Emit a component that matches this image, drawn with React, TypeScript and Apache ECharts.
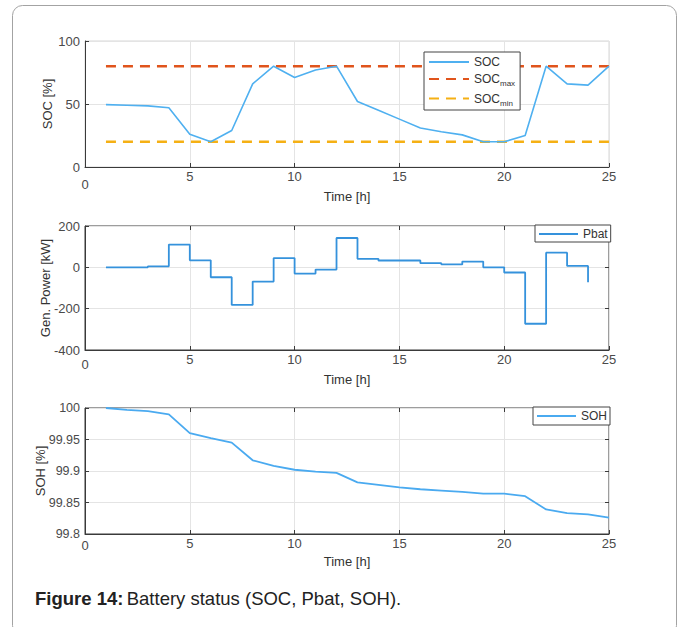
import React, { useEffect, useRef } from 'react';
import * as echarts from 'echarts';

const HOURS = [1, 2, 3, 4, 5, 6, 7, 8, 9, 10, 11, 12, 13, 14, 15, 16, 17, 18, 19, 20, 21, 22, 23, 24, 25];
const SOC = [49.5, 49, 48.5, 47, 26, 20, 29, 66, 80, 71, 77, 80, 52, 45, 38, 31, 28, 25.5, 20, 20, 25, 80, 66, 65, 80];
const SOC_MAX = 80;
const SOC_MIN = 20;
const LIMIT_HOURS = [1, 25];
const PBAT_HOURS = [1, 2, 3, 4, 5, 6, 7, 8, 9, 10, 11, 12, 13, 14, 15, 16, 17, 18, 19, 20, 21, 22, 23, 24];
const PBAT = [0, 0, 5, 110, 34, -48, -182, -69, 45, -30, -11, 142, 41, 33, 33, 20, 14, 28, 0, -25, -273, 71, 7, -72];
const SOH = [100, 99.997, 99.995, 99.99, 99.96, 99.952, 99.945, 99.917, 99.908, 99.902, 99.899, 99.897, 99.882, 99.878, 99.874, 99.871, 99.869, 99.867, 99.864, 99.864, 99.86, 99.839, 99.833, 99.831, 99.826];

const FONT = 'Liberation Sans, Arial, Helvetica, sans-serif';
const AXIS_DARK = '#3a3a3a';
const GRID_LIGHT = '#e4e4e4';
const LABEL_COLOR = '#4a4a4a';

export default function App() {
  const ref = useRef<HTMLDivElement>(null);
  useEffect(() => {
    if (!ref.current) return;
    const chart = echarts.init(ref.current, null, { renderer: 'svg' });

    const grids = [
      { left: 85, width: 524, top: 41, height: 126 },
      { left: 85, width: 524, top: 226, height: 124 },
      { left: 85, width: 524, top: 408, height: 126 },
    ];

    const xBottom = (gi: number, zeroPad: number, nameGap: number) => ({
      type: 'value',
      gridIndex: gi,
      min: 0,
      max: 25,
      interval: 5,
      name: 'Time [h]',
      nameLocation: 'middle',
      nameGap,
      nameMoveOverlap: false,
      nameTextStyle: { fontFamily: FONT, fontSize: 13, color: '#333' },
      axisLine: { show: true, onZero: false, lineStyle: { color: AXIS_DARK, width: 1 } },
      axisTick: { show: true, inside: true, length: 4, lineStyle: { color: AXIS_DARK } },
      axisLabel: {
        fontFamily: FONT,
        fontSize: 13,
        color: LABEL_COLOR,
        margin: 3,
        formatter: (v: number) => (v === 0 ? '{z|0}' : String(v)),
        rich: { z: { fontFamily: FONT, fontSize: 13, color: LABEL_COLOR, padding: [zeroPad, 0, 0, 0] } },
      },
      splitLine: { show: true, lineStyle: { color: GRID_LIGHT, width: 1 } },
    });

    const xTop = (gi: number) => ({
      type: 'value',
      gridIndex: gi,
      position: 'top',
      min: 0,
      max: 25,
      interval: 5,
      axisLine: { show: false, onZero: false },
      axisTick: { show: true, inside: true, length: 4, lineStyle: { color: AXIS_DARK } },
      axisLabel: { show: false },
      splitLine: { show: false },
    });

    const yLeft = (gi: number, min: number, max: number, interval: number, name: string, nameGap: number, fontSize: number, fmt?: (v: number) => string) => ({
      type: 'value',
      gridIndex: gi,
      min,
      max,
      interval,
      name,
      nameLocation: 'middle',
      nameGap,
      nameMoveOverlap: false,
      nameTextStyle: { fontFamily: FONT, fontSize: 13, color: '#333' },
      axisLine: { show: true, onZero: false, lineStyle: { color: AXIS_DARK, width: 1 } },
      axisTick: { show: true, inside: true, length: 4, lineStyle: { color: AXIS_DARK } },
      axisLabel: { fontFamily: FONT, fontSize, color: LABEL_COLOR, margin: 5, formatter: fmt },
      splitLine: { show: true, lineStyle: { color: GRID_LIGHT, width: 1 } },
    });

    const yRight = (gi: number, min: number, max: number, interval: number) => ({
      type: 'value',
      gridIndex: gi,
      position: 'right',
      min,
      max,
      interval,
      axisLine: { show: false, onZero: false },
      axisTick: { show: true, inside: true, length: 4, lineStyle: { color: AXIS_DARK } },
      axisLabel: { show: false },
      splitLine: { show: false },
    });

    const legendBase = {
      orient: 'vertical',
      backgroundColor: '#fff',
      borderColor: '#444',
      borderWidth: 1,
      borderRadius: 0,
      itemGap: 5,
      itemHeight: 14,
      itemStyle: { opacity: 0 },
      textStyle: { fontFamily: FONT, fontSize: 12, color: '#333' },
    };

    const option: any = {
      animation: false,
      grid: [
        { ...grids[0], show: true, borderColor: '#d6d6d6', borderWidth: 1, backgroundColor: 'transparent' },
        { ...grids[1], show: true, borderColor: AXIS_DARK, borderWidth: 1, backgroundColor: 'transparent' },
        { ...grids[2], show: true, borderColor: AXIS_DARK, borderWidth: 1, backgroundColor: 'transparent' },
      ],
      xAxis: [xBottom(0, 8, 23), xBottom(1, 5, 23), xBottom(2, 2, 21), xTop(1), xTop(2)],
      yAxis: [
        yLeft(0, 0, 100, 50, 'SOC [%]', 31, 13),
        yLeft(1, -400, 200, 200, 'Gen. Power [kW]', 33, 13),
        yLeft(2, 99.8, 100, 0.05, 'SOH [%]', 38, 12.5, (v: number) => String(parseFloat(v.toFixed(2)))),
        yRight(1, -400, 200, 200),
        yRight(2, 99.8, 100, 0.05),
      ],
      legend: [
        {
          ...legendBase,
          left: 424,
          top: 52,
          padding: [4, 5, 3, 4],
          itemWidth: 40,
          data: ['SOC', 'SOCmax', 'SOCmin'],
          formatter: (name: string) =>
            name === 'SOCmax' ? '{a|SOC}{s|max}' : name === 'SOCmin' ? '{a|SOC}{s|min}' : '{a|' + name + '}',
          textStyle: {
            fontFamily: FONT,
            fontSize: 12,
            color: '#333',
            rich: {
              a: { fontFamily: FONT, fontSize: 12, color: '#333' },
              s: { fontFamily: FONT, fontSize: 8, color: '#333', padding: [9, 0, 0, 0] },
            },
          },
        },
        { ...legendBase, left: 535, top: 225, padding: [3, 3, 2, 3], itemHeight: 13, itemWidth: 39, data: ['Pbat'] },
        { ...legendBase, left: 533, top: 407, padding: [3, 3, 3, 3], itemHeight: 13, itemWidth: 39, data: ['SOH'] },
      ],
      series: [
        {
          name: 'SOC',
          type: 'line',
          xAxisIndex: 0,
          yAxisIndex: 0,
          symbol: 'none',
          data: HOURS.map((h, i) => [h, SOC[i]]),
          lineStyle: { color: '#4fb0f0', width: 1.6 },
          itemStyle: { color: '#4fb0f0' },
          z: 3,
        },
        {
          name: 'SOCmax',
          type: 'line',
          xAxisIndex: 0,
          yAxisIndex: 0,
          symbol: 'none',
          data: LIMIT_HOURS.map((h) => [h, SOC_MAX]),
          lineStyle: { color: '#e0541c', width: 2.6, type: [10, 7] },
          itemStyle: { color: '#e0541c' },
          z: 2,
        },
        {
          name: 'SOCmin',
          type: 'line',
          xAxisIndex: 0,
          yAxisIndex: 0,
          symbol: 'none',
          data: LIMIT_HOURS.map((h) => [h, SOC_MIN]),
          lineStyle: { color: '#f5b014', width: 2.6, type: [10, 7] },
          itemStyle: { color: '#f5b014' },
          z: 2,
        },
        {
          name: 'Pbat',
          type: 'line',
          xAxisIndex: 1,
          yAxisIndex: 1,
          symbol: 'none',
          step: 'end',
          data: PBAT_HOURS.map((h, i) => [h, PBAT[i]]),
          lineStyle: { color: '#3592dc', width: 1.8 },
          itemStyle: { color: '#3592dc' },
        },
        {
          name: 'SOH',
          type: 'line',
          xAxisIndex: 2,
          yAxisIndex: 2,
          symbol: 'none',
          data: HOURS.map((h, i) => [h, SOH[i]]),
          lineStyle: { color: '#4aaaf0', width: 1.8 },
          itemStyle: { color: '#4aaaf0' },
        },
      ],
      graphic: [
        {
          type: 'rect',
          z: -10,
          silent: true,
          shape: { x: 12.5, y: 5.5, width: 664, height: 630, r: 10 },
          style: { fill: '#fff', stroke: '#a3a3a3', lineWidth: 1 },
        },
        {
          type: 'text',
          x: 35,
          y: 598,
          style: {
            text: '{b|Figure 14:} {n|Battery status (SOC, Pbat, SOH).}',
            verticalAlign: 'middle',
            rich: {
              b: { fontFamily: FONT, fontSize: 18.5, fontWeight: 'bold', fill: '#222' },
              n: { fontFamily: FONT, fontSize: 18.5, fill: '#222' },
            },
          },
        },
      ],
    };

    chart.setOption(option);
    return () => chart.dispose();
  }, []);

  return <div ref={ref} style={{ position: 'absolute', left: 0, top: 0, width: 682, height: 627, background: '#fff' }} />;
}
